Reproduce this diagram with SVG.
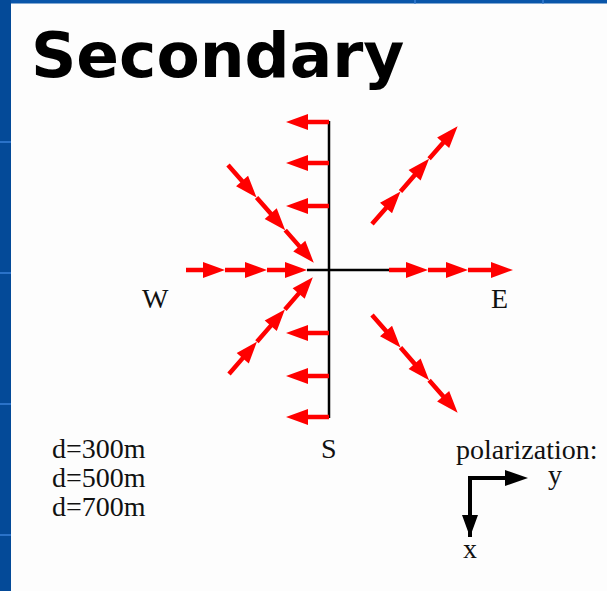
<svg xmlns="http://www.w3.org/2000/svg" xmlns:xlink="http://www.w3.org/1999/xlink" width="607" height="591" viewBox="0 0 607 591">
  <style>
    .red { stroke: #ff0000; stroke-width: 4.5; fill: none; }
    .redhead { fill: #ff0000; }
    .axis { stroke: #000; stroke-width: 2.5; fill: none; }
    .lbl { font-family: "Liberation Serif", "Times New Roman", serif; font-size: 28px; fill: #111; }
    .title { font-family: "DejaVu Sans", Verdana, sans-serif; font-weight: bold; font-size: 63px; fill: #000; }
  </style>
  <defs>
    <g id="tri3">
      <path class="red" d="M0,0 H24 M43.3,0 H67 M86.7,0 H110"/>
      <path class="redhead" d="M43.3,0 l-22,-8 v16z M86.7,0 l-22,-8 v16z M130,0 l-22,-8 v16z"/>
    </g>
    <g id="left1">
      <path class="red" d="M0,0 H-23"/>
      <path class="redhead" d="M-43,0 l22,-8 v16z"/>
    </g>
  </defs>

  <!-- frame -->
  <g id="frame">
    <rect x="0" y="0" width="607" height="591" fill="#fdfdfd"/>
    <rect x="0" y="0" width="607" height="3.5" fill="#0a56aa"/>
    <rect x="0" y="0" width="11" height="591" fill="#044a98"/>
    <g fill="#2a72c8">
      <rect x="0" y="141" width="11" height="2"/>
      <rect x="0" y="272" width="11" height="2"/>
      <rect x="0" y="403" width="11" height="2"/>
      <rect x="0" y="534" width="11" height="2"/>
      <rect x="414" y="0" width="2" height="3.5"/>
      <rect x="542" y="0" width="2" height="3.5"/>
    </g>
  </g>

  <g id="title">
    <text class="title" x="31" y="77">Secondary</text>
  </g>

  <!-- axes -->
  <g id="axes">
    <path class="axis" d="M329,121 V418"/>
    <path class="axis" d="M307,270 H390"/>
  </g>

  <g id="connectors">
    <!-- W horizontal -->
    <g id="arrows-w">
      <path class="red" d="M186,270 H206 M225,270 H248 M267,270 H288"/>
      <path class="redhead" d="M225,270 l-22,-8 v16z M267,270 l-22,-8 v16z M307,270 l-22,-8 v16z"/>
    </g>
    <!-- E horizontal -->
    <g id="arrows-e">
      <path class="red" d="M389,270 H409 M428,270 H449 M468,270 H494"/>
      <path class="redhead" d="M428,270 l-22,-8 v16z M468,270 l-22,-8 v16z M513,270 l-22,-8 v16z"/>
    </g>
    <!-- diagonals -->
    <use id="arrows-nw" xlink:href="#tri3" href="#tri3" transform="translate(228,165) rotate(48.7)"/>
    <use id="arrows-ne" xlink:href="#tri3" href="#tri3" transform="translate(372,224) rotate(-48.8)"/>
    <use id="arrows-sw" xlink:href="#tri3" href="#tri3" transform="translate(229,374) rotate(-49.1) scale(0.985,1)"/>
    <use id="arrows-se" xlink:href="#tri3" href="#tri3" transform="translate(372,315) rotate(48.8)"/>
    <!-- polarization arrows on vertical axis -->
    <g id="arrows-n">
      <use xlink:href="#left1" href="#left1" transform="translate(329,122)"/>
      <use xlink:href="#left1" href="#left1" transform="translate(329,163)"/>
      <use xlink:href="#left1" href="#left1" transform="translate(329,206)"/>
    </g>
    <g id="arrows-s">
      <use xlink:href="#left1" href="#left1" transform="translate(329,333)"/>
      <use xlink:href="#left1" href="#left1" transform="translate(329,376)"/>
      <use xlink:href="#left1" href="#left1" transform="translate(329,417)"/>
    </g>
  </g>

  <g id="labels">
    <text class="lbl" x="142" y="308">W</text>
    <text class="lbl" x="491" y="308">E</text>
    <text class="lbl" x="321" y="458">S</text>
  </g>

  <g id="legend">
    <text class="lbl" x="52" y="458">d=300m</text>
    <text class="lbl" x="52" y="487">d=500m</text>
    <text class="lbl" x="52" y="516">d=700m</text>
  </g>

  <g id="polarization">
    <text class="lbl" x="456" y="459">polarization:</text>
    <path d="M470,537 V478 H506" stroke="#000" stroke-width="4" fill="none"/>
    <path d="M528,478 l-23,-8 v16z M470,537 l-8,-22 h16z" fill="#000"/>
    <text class="lbl" x="548" y="484">y</text>
    <text class="lbl" x="463" y="558">x</text>
  </g>
</svg>
